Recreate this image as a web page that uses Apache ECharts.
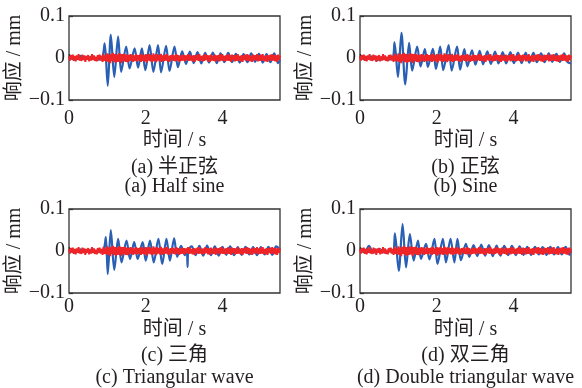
<!DOCTYPE html>
<html>
<head>
<meta charset="utf-8">
<script src="https://cdn.jsdelivr.net/npm/echarts@6/dist/echarts.min.js"></script>
<style>
  html, body { margin: 0; padding: 0; background: #fff; }
  #chart { width: 582px; height: 388px; }
</style>
</head>
<body>
<div id="chart"></div>
<script>
// red trace (sampled every 0.025 s, mm) - same look in every panel
const redStep = 0.025;
const redNoise = [
  0.004,-0.006,0.007,-0.003,0.008,-0.007,0.005,-0.008,0.006,-0.004,0.009,-0.006,0.003,-0.007,0.008,-0.005,0.006,-0.009,0.005,-0.004,
  0.007,-0.008,0.004,-0.006,0.009,-0.005,0.006,-0.007,0.003,-0.008,0.007,-0.004,0.008,-0.006,0.005,-0.009,0.010,-0.007,0.006,-0.008,
  0.011,-0.009,0.008,-0.012,0.010,-0.007,0.012,-0.010,0.009,-0.011,0.008,-0.009,0.011,-0.008,0.010,-0.012,0.009,-0.007,0.010,-0.009,
  0.008,-0.010,0.007,-0.008,0.009,-0.006,0.008,-0.009,0.006,-0.007,0.009,-0.008,0.007,-0.006,0.008,-0.009,0.010,-0.007,0.006,-0.008,
  0.009,-0.011,0.008,-0.006,0.010,-0.008,0.007,-0.009,0.011,-0.007,0.008,-0.010,0.009,-0.006,0.007,-0.008,0.010,-0.009,0.006,-0.007,
  0.008,-0.006,0.009,-0.008,0.005,-0.009,0.007,-0.005,0.008,-0.007,0.006,-0.008,0.009,-0.006,0.007,-0.009,0.005,-0.007,0.008,-0.006,
  0.007,-0.008,0.006,-0.005,0.009,-0.007,0.008,-0.006,0.005,-0.008,0.007,-0.009,0.006,-0.005,0.008,-0.007,0.009,-0.006,0.005,-0.008,
  0.006,-0.007,0.009,-0.005,0.007,-0.008,0.006,-0.009,0.008,-0.006,0.005,-0.007,0.008,-0.009,0.006,-0.005,0.007,-0.008,0.009,-0.006,
  0.008,-0.007,0.005,-0.008,0.007,-0.006,0.009,-0.007,0.006,-0.009,0.008,-0.005,0.007,-0.008,0.006,-0.007,0.009,-0.006,0.005,-0.008,
  0.007,-0.009,0.006,-0.005,0.008,-0.007,0.009,-0.006,0.007,-0.008,0.005,-0.009,0.008,-0.006,0.007,-0.005,0.009,-0.008,0.006,-0.007,
  0.008,-0.006,0.009,-0.007,0.005,-0.008,0.007,-0.009,0.006,-0.005,0.008,-0.007,0.009,-0.006,0.007,-0.008,0.006,-0.009,0.008,-0.005,0.006
];

// blue traces: [time s, response mm] at the turning points
const blueA = [
  [0,0.002],[0.15,-0.004],[0.3,0.005],[0.45,-0.003],[0.6,0.004],[0.75,-0.004],[0.87,0.002],
  [0.93,0.035],[1.01,-0.066],[1.09,0.055],[1.18,-0.045],[1.28,0.051],[1.36,-0.033],[1.49,0.027],[1.58,-0.025],
  [1.71,0.023],[1.80,-0.023],[1.90,0.023],[1.99,-0.029],[2.10,0.031],[2.20,-0.033],[2.32,0.031],[2.40,-0.034],
  [2.53,0.029],[2.62,-0.031],[2.75,0.027],[2.84,-0.022],
  [2.95,0.016],[3.05,-0.014],[3.15,0.015],[3.25,-0.012],[3.35,0.014],[3.45,-0.013],[3.55,0.012],[3.65,-0.011],
  [3.75,0.013],[3.85,-0.012],[3.95,0.011],[4.05,-0.010],[4.15,0.012],[4.25,-0.010],[4.35,0.010],[4.45,-0.011],
  [4.55,0.009],[4.65,-0.010],[4.75,0.011],[4.85,-0.009],[4.95,0.010],[5.05,-0.011],[5.15,0.009],[5.25,-0.010],
  [5.35,0.011],[5.45,-0.012],[5.5,-0.004]
];
const blueB = [
  [0,0.003],[0.15,-0.004],[0.3,0.004],[0.45,-0.005],[0.6,0.003],[0.75,-0.004],[0.86,0.002],
  [0.90,0.037],[0.99,-0.045],[1.08,0.060],[1.18,-0.063],[1.28,0.036],[1.36,-0.030],[1.49,0.027],[1.58,-0.020],
  [1.69,0.021],[1.77,-0.021],[1.90,0.022],[1.98,-0.026],[2.09,0.027],[2.17,-0.029],[2.31,0.031],[2.39,-0.030],
  [2.53,0.027],[2.61,-0.028],[2.72,0.021],[2.80,-0.020],
  [2.92,0.018],[3.01,-0.016],[3.12,0.017],[3.21,-0.015],[3.32,0.016],[3.41,-0.014],[3.52,0.015],[3.61,-0.013],
  [3.72,0.014],[3.81,-0.013],[3.92,0.014],[4.01,-0.012],[4.12,0.013],[4.21,-0.012],[4.32,0.012],[4.41,-0.011],
  [4.52,0.012],[4.61,-0.010],[4.72,0.011],[4.81,-0.010],[4.92,0.011],[5.01,-0.009],[5.12,0.010],[5.21,-0.009],
  [5.32,0.011],[5.41,-0.010],[5.5,-0.013]
];
const blueC = [
  [0,0.002],[0.15,-0.004],[0.3,0.004],[0.45,-0.003],[0.6,0.004],[0.75,-0.003],[0.9,0.003],
  [0.96,0.033],[1.01,-0.055],[1.09,0.050],[1.18,-0.045],[1.28,0.029],[1.37,-0.027],[1.50,0.025],[1.59,-0.019],
  [1.70,0.021],[1.79,-0.019],[1.92,0.021],[2.00,-0.023],[2.11,0.025],[2.21,-0.027],[2.33,0.029],[2.43,-0.031],
  [2.54,0.029],[2.63,-0.023],[2.74,0.030],[2.82,-0.014],
  [2.92,0.012],[3.02,-0.010],[3.07,0.004],[3.09,-0.038],[3.11,0.003],[3.2,0.011],[3.3,-0.010],[3.4,0.012],
  [3.5,-0.011],[3.6,0.013],[3.7,-0.010],[3.8,0.011],[3.9,-0.011],[4.0,0.010],[4.1,-0.009],[4.2,0.011],
  [4.3,-0.010],[4.4,0.009],[4.5,-0.009],[4.6,0.010],[4.7,-0.008],[4.8,0.009],[4.9,-0.010],[5.0,0.009],
  [5.1,-0.008],[5.2,0.010],[5.3,-0.009],[5.4,0.011],[5.5,0.004]
];
const blueD = [
  [0,0.004],[0.12,-0.003],[0.23,0.012],[0.35,-0.004],[0.5,0.005],[0.65,-0.004],[0.8,0.004],[0.87,-0.002],
  [0.91,0.042],[1.01,-0.047],[1.11,0.064],[1.20,-0.039],[1.30,0.040],[1.40,-0.023],[1.51,0.025],[1.59,-0.019],
  [1.72,0.017],[1.81,-0.020],[1.94,0.029],[2.02,-0.031],[2.16,0.029],[2.24,-0.027],[2.36,0.029],[2.46,-0.027],
  [2.54,0.029],[2.63,-0.022],[2.76,0.017],[2.85,-0.014],
  [2.96,0.014],[3.06,-0.012],[3.16,0.015],[3.26,-0.011],[3.36,0.014],[3.46,-0.012],[3.56,0.013],[3.66,-0.011],
  [3.76,0.012],[3.86,-0.010],[3.96,0.012],[4.06,-0.010],[4.16,0.011],[4.26,-0.009],[4.36,0.010],[4.46,-0.009],
  [4.56,0.010],[4.66,-0.008],[4.76,0.009],[4.86,-0.009],[4.96,0.010],[5.06,-0.008],[5.16,0.009],[5.26,-0.008],
  [5.36,0.010],[5.46,-0.009],[5.5,0.003]
];

const captionsCn = ['(a) 半正弦', '(b) 正弦', '(c) 三角', '(d) 双三角'];
const captionsEn = ['(a) Half sine', '(b) Sine', '(c) Triangular wave', '(d) Double triangular wave'];
const xName = '时间 / s';
const yName = '响应 / mm';

const FONT = '"Liberation Serif", "Noto Sans CJK SC", serif';
const TXT = '#231f20';

const chart = echarts.init(document.getElementById('chart'));

const redData = redNoise.map((v, i) => [+(i * redStep).toFixed(3), v]);
const blues = [blueA, blueB, blueC, blueD];

// panel boxes
const boxes = [
  { left: 69, top: 16, lblMargin: 9, nameGap: 31, capY: [168, 187] },
  { left: 360, top: 16, lblMargin: 9, nameGap: 31, capY: [168, 187] },
  { left: 69, top: 209, lblMargin: 4, nameGap: 27, capY: [356, 378] },
  { left: 360, top: 209, lblMargin: 4, nameGap: 27, capY: [356, 378] }
];
const W = 211, H = 84;

const grids = [], xAxes = [], yAxes = [], series = [], graphics = [];
boxes.forEach((b, i) => {
  grids.push({
    left: b.left, top: b.top, width: W, height: H,
    show: true, borderColor: '#333', borderWidth: 1.3, backgroundColor: 'transparent'
  });
  xAxes.push({
    type: 'value', gridIndex: i, min: 0, max: 5.5, interval: 2,
    name: xName, nameLocation: 'middle', nameGap: b.nameGap,
    nameTextStyle: { fontFamily: FONT, fontSize: 20, color: TXT },
    axisLine: { show: false },
    axisTick: { inside: true, length: 4, lineStyle: { color: '#333', width: 1.3 } },
    axisLabel: { showMaxLabel: false, margin: b.lblMargin, fontFamily: FONT, fontSize: 20, color: TXT },
    splitLine: { show: false }
  });
  yAxes.push({
    type: 'value', gridIndex: i, min: -0.1, max: 0.1, interval: 0.1,
    name: yName, nameLocation: 'middle', nameRotate: 90, nameGap: 42,
    nameTextStyle: { fontFamily: FONT, fontSize: 20, color: TXT },
    axisLine: { show: false },
    axisTick: { inside: true, length: 4, lineStyle: { color: '#333', width: 1.3 } },
    axisLabel: {
      margin: 4, fontFamily: FONT, fontSize: 20, color: TXT,
      formatter: v => (Math.abs(v) < 1e-9 ? '0' : (v < 0 ? '\u2212' + (+Math.abs(v).toFixed(2)) : String(+v.toFixed(2))))
    },
    splitLine: { show: false }
  });
  series.push({
    type: 'line', xAxisIndex: i, yAxisIndex: i, data: blues[i],
    showSymbol: false, animation: false, smooth: 0.3,
    lineStyle: { color: '#2a5fb4', width: 2.2 }
  });
  series.push({
    type: 'line', xAxisIndex: i, yAxisIndex: i, data: redData,
    showSymbol: false, animation: false,
    lineStyle: { color: '#ee2428', width: 1.9 }
  });
  const cx = b.left + W / 2;
  graphics.push({
    type: 'text', x: cx, y: b.capY[0],
    style: { text: captionsCn[i], fontFamily: FONT, fontSize: 20, fill: TXT, textAlign: 'center', textVerticalAlign: 'middle' }
  });
  graphics.push({
    type: 'text', x: cx, y: b.capY[1],
    style: { text: captionsEn[i], fontFamily: FONT, fontSize: 20, fill: TXT, textAlign: 'center', textVerticalAlign: 'middle' }
  });
});

chart.setOption({
  animation: false,
  grid: grids,
  xAxis: xAxes,
  yAxis: yAxes,
  series: series,
  graphic: graphics
});
</script>
</body>
</html>
